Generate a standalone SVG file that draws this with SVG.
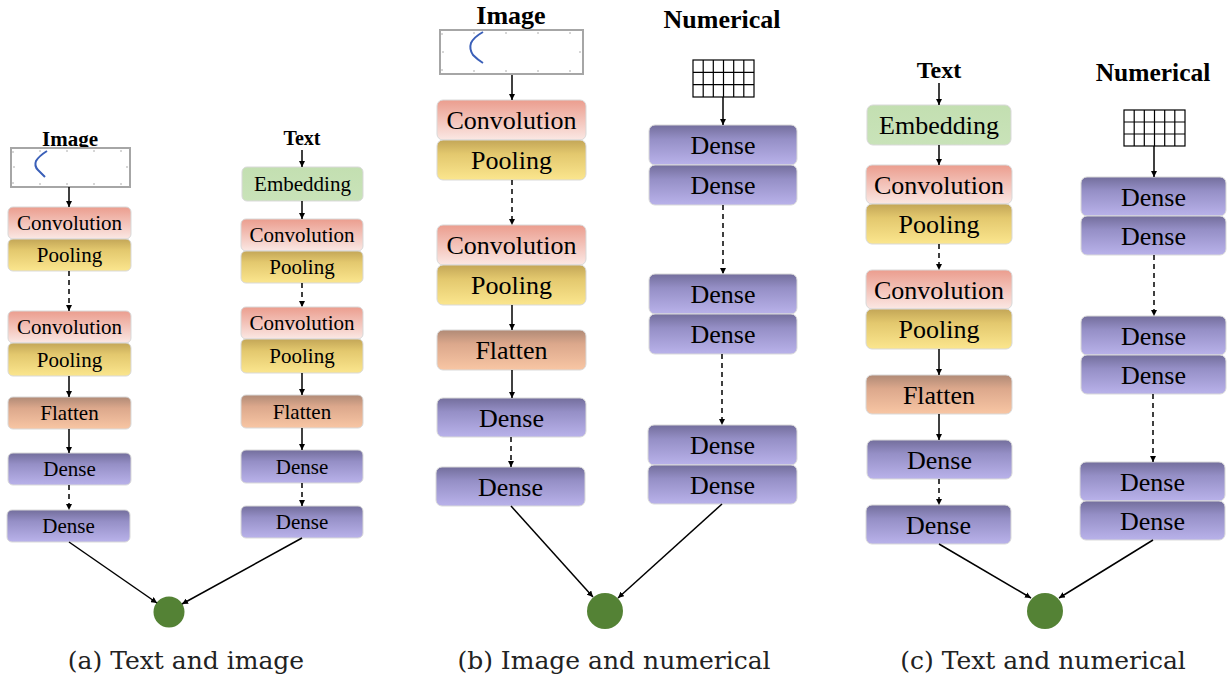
<svg xmlns="http://www.w3.org/2000/svg" width="1231" height="676" viewBox="0 0 1231 676">
<defs>
<linearGradient id="gConv" x1="0" y1="0" x2="0" y2="1"><stop offset="0" stop-color="#eb9d8e"/><stop offset="1" stop-color="#fbe8e4"/></linearGradient>
<linearGradient id="gPool" x1="0" y1="0" x2="0" y2="1"><stop offset="0" stop-color="#c3a657"/><stop offset="0.35" stop-color="#e3c86e"/><stop offset="1" stop-color="#fbe68e"/></linearGradient>
<linearGradient id="gFlat" x1="0" y1="0" x2="0" y2="1"><stop offset="0" stop-color="#b08a76"/><stop offset="0.35" stop-color="#dca88c"/><stop offset="1" stop-color="#f8c6a4"/></linearGradient>
<linearGradient id="gDense" x1="0" y1="0" x2="0" y2="1"><stop offset="0" stop-color="#736e9c"/><stop offset="0.35" stop-color="#958fc6"/><stop offset="1" stop-color="#b9b2ea"/></linearGradient>
<linearGradient id="gEmb" x1="0" y1="0" x2="0" y2="1"><stop offset="0" stop-color="#c3dfb1"/><stop offset="1" stop-color="#c9e3b9"/></linearGradient>
<marker id="ah" viewBox="0 0 10 10" refX="10" refY="5" markerWidth="6" markerHeight="6" markerUnits="userSpaceOnUse" orient="auto"><path d="M0,0 L10,5 L0,10 z" fill="#000"/></marker>
</defs>
<style>
.box{stroke:#d9d9d9;stroke-width:1}
.conv{fill:url(#gConv)}
.pool{fill:url(#gPool)}
.flat{fill:url(#gFlat)}
.dense{fill:url(#gDense)}
.emb{fill:url(#gEmb)}
text.t{font-family:'Liberation Serif','DejaVu Serif',serif;text-anchor:middle;fill:#000}
text.s{font-size:21px}
text.l{font-size:26px}
text.h{font-family:'Liberation Serif','DejaVu Serif',serif;font-weight:bold;text-anchor:middle;fill:#000}
text.cap{font-family:'DejaVu Serif','Liberation Serif',serif;font-size:25px;text-anchor:middle;fill:#222}
.c line{stroke:#000;stroke-width:1.5;marker-end:url(#ah)}
.c .d{stroke-dasharray:5,4}
.frame{fill:#fff;stroke:#a6a6a6;stroke-width:2}
.tick{stroke:#999;stroke-width:0.8}
.arc{fill:none;stroke:#3a5fb8;stroke-width:2}
.grid{fill:#fff;stroke:#000;stroke-width:1.2}
.node{fill:#548235}
</style>

<!-- Panel a -->
<g id="a-image-label"><text class="h" x="70" y="146" font-size="21">Image</text></g>
<g id="a-image">
<rect class="frame" x="11" y="148" width="119" height="39"/>
<path class="tick" d="M13,151 v2 M13,184 v-2 M40,185 v-2 M67,185 v-2 M94,185 v-2 M121,185 v-2 M40,150 v2 M67,150 v2 M94,150 v2 M121,150 v2 M13,167 h2 M128,167 h-2"/>
<path class="arc" d="M47,151 Q39,156 36,161 Q34,166 38,170 Q42,174 45,177"/>
</g>
<g id="a-conv1"><rect class="box conv" x="8" y="207" width="123" height="32" rx="5"/><text class="t s" x="69.5" y="230">Convolution</text></g>
<g id="a-pool1"><rect class="box pool" x="8" y="239" width="123" height="32" rx="5"/><text class="t s" x="69.5" y="262">Pooling</text></g>
<g id="a-conv2"><rect class="box conv" x="8" y="311" width="123" height="32" rx="5"/><text class="t s" x="69.5" y="334">Convolution</text></g>
<g id="a-pool2"><rect class="box pool" x="8" y="343" width="123" height="33" rx="5"/><text class="t s" x="69.5" y="366.5">Pooling</text></g>
<g id="a-flat"><rect class="box flat" x="8" y="397" width="123" height="32" rx="5"/><text class="t s" x="69.5" y="420">Flatten</text></g>
<g id="a-dense1"><rect class="box dense" x="8" y="453" width="123" height="32" rx="5"/><text class="t s" x="69.5" y="476">Dense</text></g>
<g id="a-dense2"><rect class="box dense" x="7" y="510" width="123" height="32" rx="5"/><text class="t s" x="68.5" y="533">Dense</text></g>

<g id="a-text-label"><text class="h" x="302" y="145" font-size="20">Text</text></g>
<g id="a-emb"><rect class="box emb" x="242" y="167" width="121" height="34" rx="5"/><text class="t s" x="302.5" y="191">Embedding</text></g>
<g id="a-tconv1"><rect class="box conv" x="241" y="219" width="122" height="32" rx="5"/><text class="t s" x="302" y="242">Convolution</text></g>
<g id="a-tpool1"><rect class="box pool" x="241" y="251" width="122" height="32" rx="5"/><text class="t s" x="302" y="274">Pooling</text></g>
<g id="a-tconv2"><rect class="box conv" x="241" y="307" width="122" height="32" rx="5"/><text class="t s" x="302" y="330">Convolution</text></g>
<g id="a-tpool2"><rect class="box pool" x="241" y="339" width="122" height="34" rx="5"/><text class="t s" x="302" y="363">Pooling</text></g>
<g id="a-tflat"><rect class="box flat" x="241" y="395" width="122" height="33" rx="5"/><text class="t s" x="302" y="418.5">Flatten</text></g>
<g id="a-tdense1"><rect class="box dense" x="241" y="450" width="122" height="33" rx="5"/><text class="t s" x="302" y="473.5">Dense</text></g>
<g id="a-tdense2"><rect class="box dense" x="241" y="506" width="122" height="32" rx="5"/><text class="t s" x="302" y="529">Dense</text></g>
<g id="a-out"><circle class="node" cx="169" cy="612" r="15.5"/></g>

<!-- Panel b -->
<g id="b-image-label"><text class="h" x="511" y="24" font-size="26">Image</text></g>
<g id="b-image">
<rect class="frame" x="440" y="30" width="143" height="44"/>
<path class="tick" d="M442,33 v2 M442,71 v-2 M474,72 v-2 M506,72 v-2 M538,72 v-2 M570,72 v-2 M474,32 v2 M506,32 v2 M538,32 v2 M570,32 v2 M442,52 h2 M581,52 h-2"/>
<path class="arc" d="M483,32 Q474,37 471,43 Q469,49 473,55 Q478,60 483,63"/>
</g>
<g id="b-conv1"><rect class="box conv" x="437" y="100" width="149" height="40" rx="6"/><text class="t l" x="511.5" y="129">Convolution</text></g>
<g id="b-pool1"><rect class="box pool" x="437" y="140" width="149" height="40" rx="6"/><text class="t l" x="511.5" y="169">Pooling</text></g>
<g id="b-conv2"><rect class="box conv" x="437" y="225" width="149" height="40" rx="6"/><text class="t l" x="511.5" y="254">Convolution</text></g>
<g id="b-pool2"><rect class="box pool" x="437" y="265" width="149" height="40" rx="6"/><text class="t l" x="511.5" y="294">Pooling</text></g>
<g id="b-flat"><rect class="box flat" x="437" y="330" width="149" height="40" rx="6"/><text class="t l" x="511.5" y="359">Flatten</text></g>
<g id="b-dense1"><rect class="box dense" x="437" y="398" width="149" height="39" rx="6"/><text class="t l" x="511.5" y="426.5">Dense</text></g>
<g id="b-dense2"><rect class="box dense" x="436" y="467" width="149" height="39" rx="6"/><text class="t l" x="510.5" y="495.5">Dense</text></g>

<g id="b-num-label"><text class="h" x="722" y="28" font-size="26">Numerical</text></g>
<g id="b-grid">
<rect class="grid" x="693" y="60" width="61" height="37"/>
<path class="grid" d="M703.2,60 v37 M713.3,60 v37 M723.5,60 v37 M733.7,60 v37 M743.8,60 v37 M693,72.3 h61 M693,84.7 h61"/>
</g>
<g id="b-ndense1"><rect class="box dense" x="649" y="125" width="148" height="40" rx="6"/><text class="t l" x="723" y="154">Dense</text></g>
<g id="b-ndense2"><rect class="box dense" x="649" y="165" width="148" height="40" rx="6"/><text class="t l" x="723" y="194">Dense</text></g>
<g id="b-ndense3"><rect class="box dense" x="649" y="274" width="148" height="40" rx="6"/><text class="t l" x="723" y="303">Dense</text></g>
<g id="b-ndense4"><rect class="box dense" x="649" y="314" width="148" height="40" rx="6"/><text class="t l" x="723" y="343">Dense</text></g>
<g id="b-ndense5"><rect class="box dense" x="648" y="425" width="149" height="40" rx="6"/><text class="t l" x="722.5" y="454">Dense</text></g>
<g id="b-ndense6"><rect class="box dense" x="648" y="465" width="149" height="39" rx="6"/><text class="t l" x="722.5" y="493.5">Dense</text></g>
<g id="b-out"><circle class="node" cx="605" cy="611" r="18"/></g>

<!-- Panel c -->
<g id="c-text-label"><text class="h" x="939" y="78" font-size="24">Text</text></g>
<g id="c-emb"><rect class="box emb" x="867" y="105" width="144" height="40" rx="6"/><text class="t l" x="939" y="134">Embedding</text></g>
<g id="c-conv1"><rect class="box conv" x="866" y="165" width="146" height="39" rx="6"/><text class="t l" x="939" y="193.5">Convolution</text></g>
<g id="c-pool1"><rect class="box pool" x="866" y="204" width="146" height="40" rx="6"/><text class="t l" x="939" y="233">Pooling</text></g>
<g id="c-conv2"><rect class="box conv" x="866" y="270" width="146" height="39" rx="6"/><text class="t l" x="939" y="298.5">Convolution</text></g>
<g id="c-pool2"><rect class="box pool" x="866" y="309" width="146" height="40" rx="6"/><text class="t l" x="939" y="338">Pooling</text></g>
<g id="c-flat"><rect class="box flat" x="866" y="375" width="146" height="39" rx="6"/><text class="t l" x="939" y="403.5">Flatten</text></g>
<g id="c-dense1"><rect class="box dense" x="867" y="440" width="145" height="39" rx="6"/><text class="t l" x="939.5" y="468.5">Dense</text></g>
<g id="c-dense2"><rect class="box dense" x="866" y="505" width="145" height="39" rx="6"/><text class="t l" x="938.5" y="533.5">Dense</text></g>

<g id="c-num-label"><text class="h" x="1153" y="81" font-size="25.5">Numerical</text></g>
<g id="c-grid">
<rect class="grid" x="1124" y="110" width="61" height="36"/>
<path class="grid" d="M1134.2,110 v36 M1144.3,110 v36 M1154.5,110 v36 M1164.7,110 v36 M1174.8,110 v36 M1124,122 h61 M1124,134 h61"/>
</g>
<g id="c-ndense1"><rect class="box dense" x="1081" y="177" width="145" height="39" rx="6"/><text class="t l" x="1153.5" y="205.5">Dense</text></g>
<g id="c-ndense2"><rect class="box dense" x="1081" y="216" width="145" height="39" rx="6"/><text class="t l" x="1153.5" y="244.5">Dense</text></g>
<g id="c-ndense3"><rect class="box dense" x="1081" y="316" width="145" height="39" rx="6"/><text class="t l" x="1153.5" y="344.5">Dense</text></g>
<g id="c-ndense4"><rect class="box dense" x="1081" y="355" width="145" height="39" rx="6"/><text class="t l" x="1153.5" y="383.5">Dense</text></g>
<g id="c-ndense5"><rect class="box dense" x="1080" y="462" width="145" height="39" rx="6"/><text class="t l" x="1152.5" y="490.5">Dense</text></g>
<g id="c-ndense6"><rect class="box dense" x="1080" y="501" width="145" height="39" rx="6"/><text class="t l" x="1152.5" y="529.5">Dense</text></g>
<g id="c-out"><circle class="node" cx="1045" cy="611" r="18"/></g>

<!-- Connectors -->
<g id="connectors" class="c">
<line x1="69" y1="187" x2="69" y2="207"/>
<line class="d" x1="69" y1="271" x2="69" y2="311"/>
<line x1="69" y1="376" x2="69" y2="397"/>
<line x1="69" y1="429" x2="69" y2="453"/>
<line class="d" x1="69" y1="485" x2="69" y2="510"/>
<line x1="302" y1="150" x2="302" y2="167"/>
<line x1="302" y1="201" x2="302" y2="219"/>
<line class="d" x1="302" y1="283" x2="302" y2="307"/>
<line x1="302" y1="373" x2="302" y2="395"/>
<line x1="302" y1="428" x2="302" y2="450"/>
<line class="d" x1="302" y1="483" x2="302" y2="506"/>
<line x1="69" y1="542" x2="157" y2="603"/>
<line x1="302" y1="538" x2="182" y2="604"/>

<line x1="512" y1="75" x2="512" y2="100"/>
<line class="d" x1="512" y1="180" x2="512" y2="225"/>
<line x1="512" y1="305" x2="512" y2="330"/>
<line x1="512" y1="370" x2="512" y2="398"/>
<line class="d" x1="511" y1="437" x2="511" y2="467"/>
<line x1="723" y1="97" x2="723" y2="125"/>
<line class="d" x1="723" y1="205" x2="723" y2="274"/>
<line class="d" x1="722" y1="354" x2="722" y2="425"/>
<line x1="511" y1="506" x2="593" y2="597"/>
<line x1="722" y1="504" x2="618" y2="598"/>

<line x1="939" y1="83" x2="939" y2="105"/>
<line x1="939" y1="145" x2="939" y2="165"/>
<line class="d" x1="939" y1="244" x2="939" y2="270"/>
<line x1="939" y1="349" x2="939" y2="375"/>
<line x1="939" y1="414" x2="939" y2="440"/>
<line class="d" x1="939" y1="479" x2="939" y2="505"/>
<line x1="1154" y1="146" x2="1154" y2="177"/>
<line class="d" x1="1154" y1="255" x2="1154" y2="316"/>
<line class="d" x1="1153" y1="394" x2="1153" y2="462"/>
<line x1="939" y1="544" x2="1031" y2="598"/>
<line x1="1153" y1="540" x2="1059" y2="598"/>
</g>

<!-- Captions -->
<text class="cap" x="186" y="669">(a) Text and image</text>
<text class="cap" x="614" y="669">(b) Image and numerical</text>
<text class="cap" x="1043" y="669">(c) Text and numerical</text>
</svg>
